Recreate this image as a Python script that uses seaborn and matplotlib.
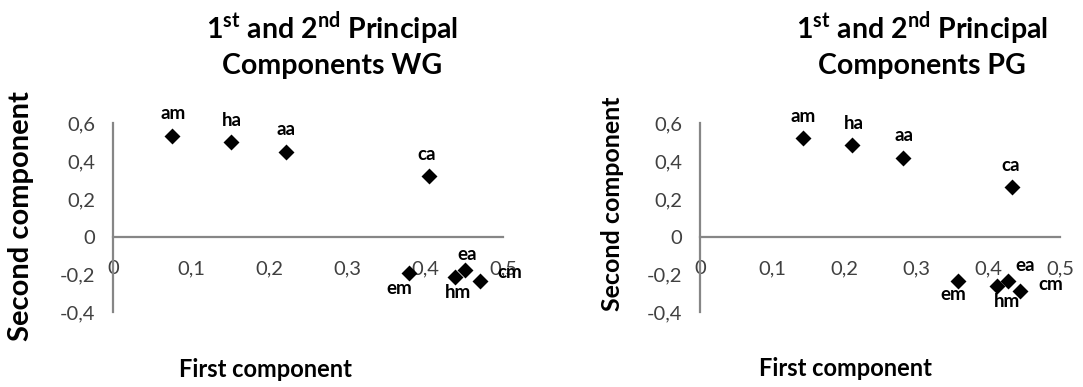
import matplotlib
matplotlib.use("Agg")
import matplotlib.pyplot as plt
import seaborn as sns
import pandas as pd

# ---- data ----
labels = ["am", "ha", "aa", "ca", "em", "hm", "ea", "cm"]
wg_first = [0.075, 0.151, 0.222, 0.405, 0.380, 0.438, 0.451, 0.471]
wg_second = [0.533, 0.499, 0.450, 0.321, -0.190, -0.212, -0.176, -0.234]
pg_first = [0.143, 0.211, 0.282, 0.434, 0.359, 0.413, 0.428, 0.444]
pg_second = [0.521, 0.485, 0.418, 0.261, -0.234, -0.259, -0.234, -0.287]
x_ticks = [0, 0.1, 0.2, 0.3, 0.4, 0.5]
y_ticks = [-0.4, -0.2, 0, 0.2, 0.4, 0.6]
x_tick_labels = ["0", "0,1", "0,2", "0,3", "0,4", "0,5"]
y_tick_labels = ["-0,4", "-0,2", "0", "0,2", "0,4", "0,6"]
titles = ["1$^{\\mathbf{st}}$ and 2$^{\\mathbf{nd}}$ Principal\nComponents WG",
          "1$^{\\mathbf{st}}$ and 2$^{\\mathbf{nd}}$ Principal\nComponents PG"]
x_label = "First component"
y_label = "Second component"

# ---- styling (label offsets in pixels) ----
wg_offsets = [(2, 22), (1, 22), (0, 22), (-2, 22), (-10, -16), (3, -16), (2, 15), (29, 8)]
pg_offsets = [(0, 22), (2, 22), (1, 22), (-2, 22), (-5, -14), (10, -16), (17, 15), (31, 6)]

sns.set_style("white")
plt.rcParams["font.family"] = ["Lato", "DejaVu Sans"]
plt.rcParams["mathtext.fontset"] = "custom"
plt.rcParams["mathtext.rm"] = "Lato:bold"
plt.rcParams["mathtext.bf"] = "Lato:bold"

W, H = 1083, 387
fig = plt.figure(figsize=(W / 100, H / 100), dpi=100)

axis_color = "#868686"
tick_color = "#404040"

panels = [
    dict(rect=(113, 123.3, 390, 189), xs=wg_first, ys=wg_second, offs=wg_offsets,
         title=titles[0], tcx=332, ylc=(-0.236, 0.51), yls=21, xlc=(0.39, -0.305)),
    dict(rect=(700, 123.3, 360, 189), xs=pg_first, ys=pg_second, offs=pg_offsets,
         title=titles[1], tcx=922, ylc=(-0.244, 0.573), yls=18, xlc=(0.403, -0.295)),
]

for p in panels:
    l, t, w, h = p["rect"]
    ax = fig.add_axes([l / W, 1 - (t + h) / H, w / W, h / H])
    df = pd.DataFrame({"x": p["xs"], "y": p["ys"], "label": labels})
    sns.scatterplot(data=df, x="x", y="y", marker="D", s=66, color="black",
                    linewidth=0, ax=ax, clip_on=False, zorder=3)
    for i, row in df.iterrows():
        dx, dy = p["offs"][i]
        ax.annotate(row["label"], (row["x"], row["y"]), xytext=(dx, dy),
                    textcoords="offset pixels", ha="center", va="center",
                    fontsize=13.5, fontweight="bold", color="black", zorder=4)
    ax.set_xlim(0, 0.5)
    ax.set_ylim(-0.4, 0.6)
    ax.set_xticks(x_ticks)
    ax.set_xticklabels(x_tick_labels)
    ax.set_yticks(y_ticks)
    ax.set_yticklabels(y_tick_labels)
    for s in ["top", "right"]:
        ax.spines[s].set_visible(False)
    ax.spines["bottom"].set_position(("data", 0))
    for s in ["left", "bottom"]:
        ax.spines[s].set_color(axis_color)
        ax.spines[s].set_linewidth(1.6)
    ax.tick_params(axis="both", direction="out", length=4, width=1.6,
                   color=axis_color, labelcolor=tick_color, labelsize=14.5)
    ax.tick_params(axis="x", pad=13)
    ax.tick_params(axis="y", pad=9)
    ax.patch.set_alpha(0)

    ax.set_ylabel(y_label, fontsize=p["yls"], fontweight="bold", color="black")
    ax.yaxis.label.set_va("center")
    ax.yaxis.set_label_coords(*p["ylc"])
    ax.set_xlabel(x_label, fontsize=17, fontweight="bold", color="black")
    ax.xaxis.label.set_va("center")
    ax.xaxis.set_label_coords(*p["xlc"])

    fig.text(p["tcx"] / W, 1 - 10 / H, p["title"], ha="center", va="top",
             fontsize=20.5, fontweight="bold", color="black", linespacing=1.25)

fig.savefig("out.png", dpi=100)
